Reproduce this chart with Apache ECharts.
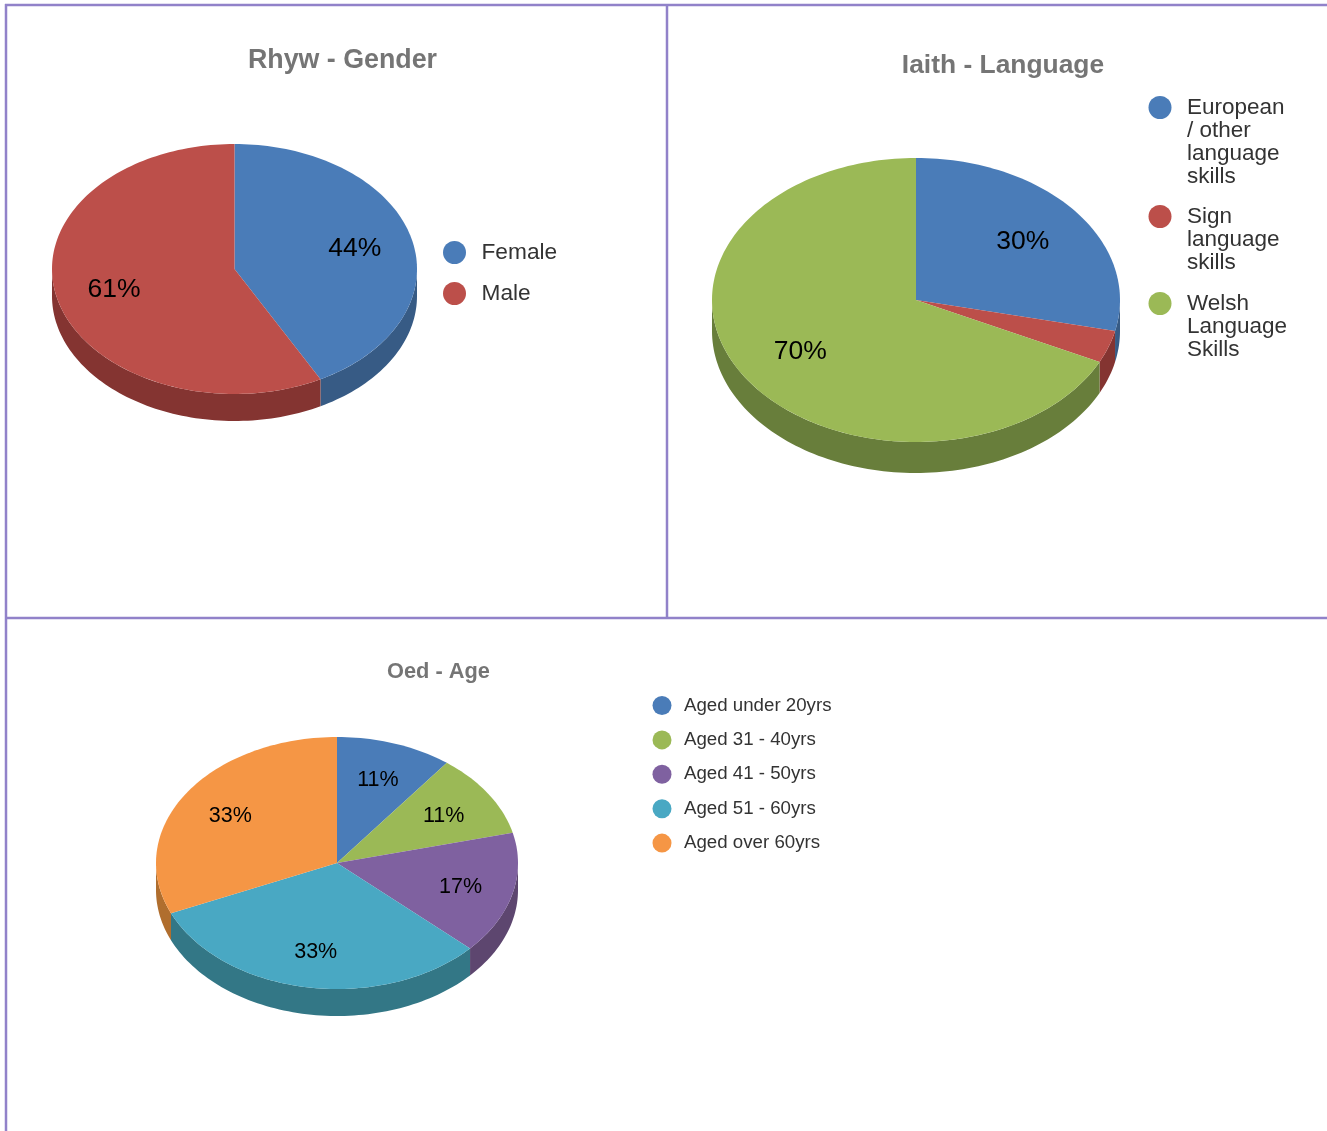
<!DOCTYPE html>
<html>
<head>
<meta charset="utf-8">
<style>html,body{margin:0;padding:0;background:#fff}#c{width:1327px;height:1131px}</style>
<script src="https://cdn.jsdelivr.net/npm/echarts@6/dist/echarts.min.js"></script>
</head>
<body>
<div id="c"></div>
<script>
// ---- data ----
var genderNames = ['Female', 'Male'];
var genderValues = [44.3, 60.7];
var languageNames = ['European / other language skills', 'Sign language skills', 'Welsh Language Skills'];
var languageValues = [29.6, 3.8, 70.4];
var languageLegendLines = [['European', '/ other', 'language', 'skills'], ['Sign', 'language', 'skills'], ['Welsh', 'Language', 'Skills']];
var ageNames = ['Aged under 20yrs', 'Aged 31 - 40yrs', 'Aged 41 - 50yrs', 'Aged 51 - 60yrs', 'Aged over 60yrs'];
var ageValues = [10.9, 11.3, 16.5, 33.2, 33.1];

var BLUE = ['#4a7cb8', '#375b85'], RED = ['#bc4f4a', '#843431'], GREEN = ['#9bb956', '#687e3b'],
    PURPLE = ['#7f61a0', '#5d466f'], TEAL = ['#49a8c3', '#337786'], ORANGE = ['#f59645', '#b06e2e'];
var FONT = '"Liberation Sans", Arial, sans-serif';

function polar(p, t, r, dy) {
  var a = t * Math.PI / 180;
  return [p.cx + Math.sin(a) * p.rx * r, p.cy - Math.cos(a) * p.ry * r + (dy || 0)];
}
function arc(p, t0, t1, dy) {
  var pts = [], n = Math.max(2, Math.ceil(Math.abs(t1 - t0) / 1.5));
  for (var i = 0; i <= n; i++) pts.push(polar(p, t0 + (t1 - t0) * i / n, 1, dy));
  return pts;
}
function sliceSeries(names, values, colors, p) {
  var total = values.reduce(function (a, b) { return a + b; }, 0), acc = 0;
  return names.map(function (name, i) {
    var t0 = acc / total * 360;
    acc += values[i];
    var t1 = acc / total * 360;
    return {
      type: 'custom', name: name, coordinateSystem: 'none', silent: true,
      itemStyle: { color: colors[i][0] },
      data: [[values[i]]],
      renderItem: function () {
        var kids = [];
        var w0 = Math.max(t0, 90), w1 = Math.min(t1, 270);
        if (w1 > w0) {
          kids.push({ type: 'polygon', z2: 1, shape: { points: arc(p, w0, w1, 0).concat(arc(p, w1, w0, p.depth)) },
            style: { fill: colors[i][1] } });
        }
        kids.push({ type: 'polygon', z2: 2, shape: { points: [[p.cx, p.cy]].concat(arc(p, t0, t1, 0)) },
          style: { fill: colors[i][0] } });
        if (values[i] >= 10) {
          var m = polar(p, (t0 + t1) / 2, p.labelR, p.labelDy);
          kids.push({ type: 'text', z2: 3, style: { text: Math.round(values[i]) + '%', x: m[0], y: m[1], align: 'center', verticalAlign: 'middle',
            font: p.labelSize + 'px ' + FONT, fill: '#000' } });
        }
        return { type: 'group', children: kids };
      }
    };
  });
}

var genderPie = { cx: 234.5, cy: 269, rx: 182.5, ry: 125, depth: 27, labelSize: 26.5, labelDy: 0, labelR: 0.68 };
var languagePie = { cx: 916, cy: 300, rx: 204, ry: 142, depth: 31, labelSize: 26.5, labelDy: 1, labelR: 0.67 };
var agePie = { cx: 337, cy: 863, rx: 181, ry: 126, depth: 27, labelSize: 21.5, labelDy: 1.5, labelR: 0.705 };

var series = [].concat(
  sliceSeries(genderNames, genderValues, [BLUE, RED], genderPie),
  sliceSeries(languageNames, languageValues, [BLUE, RED, GREEN], languagePie),
  sliceSeries(ageNames, ageValues, [BLUE, GREEN, PURPLE, TEAL, ORANGE], agePie)
);

// Language legend: symbol sits beside the first text line, so each item is its own legend.
var LH = 23;
var languageFirstLineY = [107.5, 216.5, 303.5];
var languageLegends = languageNames.map(function (name, i) {
  var lines = languageLegendLines[i], blank = [];
  for (var k = 1; k < lines.length; k++) blank.push('');
  var rows = 2 * lines.length - 1;
  return {
    show: true, orient: 'vertical', left: 1148.5, top: languageFirstLineY[i] - rows * LH / 2, padding: 0,
    icon: 'circle', itemWidth: 44, itemHeight: 23, selectedMode: false, data: [name],
    formatter: function () { return blank.concat(lines).join('\n'); },
    textStyle: { fontFamily: FONT, fontSize: 22.5, lineHeight: LH, color: '#333' }
  };
});

var border = '#9182c9';
function rule(x1, y1, x2, y2) {
  return { type: 'line', shape: { x1: x1, y1: y1, x2: x2, y2: y2 }, style: { stroke: border, lineWidth: 2.5 }, silent: true };
}

var option = {
  animation: false,
  backgroundColor: '#fff',
  title: [
    { text: 'Rhyw - Gender', left: 342.5, top: 47, textAlign: 'center', padding: 0, textStyle: { fontFamily: FONT, fontSize: 26.8, fontWeight: 'bold', color: '#757575' } },
    { text: 'Iaith - Language', left: 1003, top: 53, textAlign: 'center', padding: 0, textStyle: { fontFamily: FONT, fontSize: 26.4, fontWeight: 'bold', color: '#757575' } },
    { text: 'Oed - Age', left: 438.5, top: 661, textAlign: 'center', padding: 0, textStyle: { fontFamily: FONT, fontSize: 21.8, fontWeight: 'bold', color: '#757575' } }
  ],
  legend: [
    { orient: 'vertical', left: 443, top: 241, padding: 0, icon: 'circle', itemWidth: 44, itemHeight: 23, itemGap: 18, selectedMode: false,
      data: genderNames, textStyle: { fontFamily: FONT, fontSize: 22.7, color: '#333' } },
    { orient: 'vertical', left: 652.5, top: 696, padding: 0, icon: 'circle', itemWidth: 34, itemHeight: 19, itemGap: 15.4, selectedMode: false,
      data: ageNames, textStyle: { fontFamily: FONT, fontSize: 18.7, color: '#333' } }
  ].concat(languageLegends),
  graphic: [
    rule(5, 5, 1327, 5), rule(6, 4, 6, 1131), rule(667, 5, 667, 618), rule(6, 618, 1327, 618)
  ],
  series: series
};
var chart = echarts.init(document.getElementById('c'), null, { renderer: 'canvas' });
chart.setOption(option);
</script>
</body>
</html>
